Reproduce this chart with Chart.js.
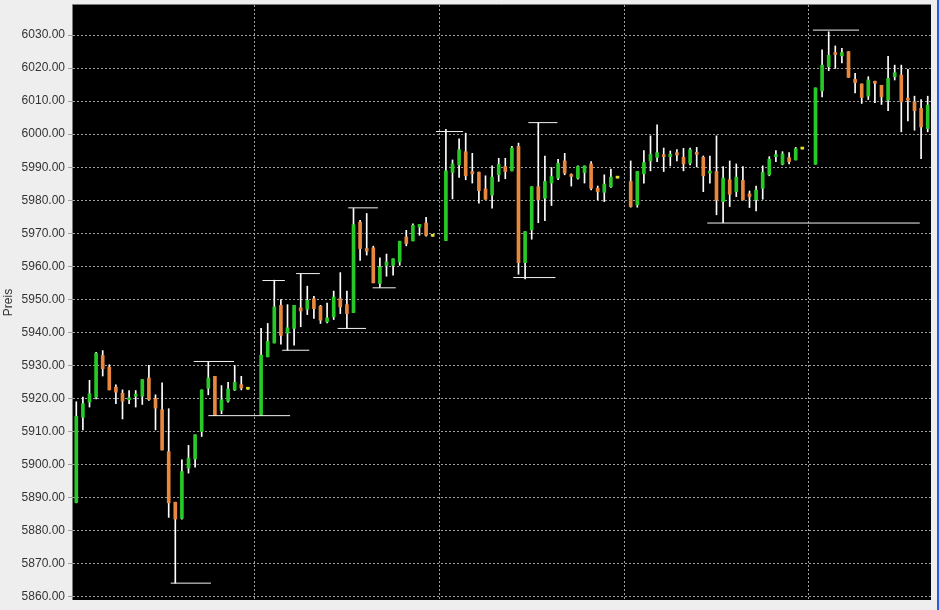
<!DOCTYPE html>
<html>
<head>
<meta charset="utf-8">
<script src="https://cdn.jsdelivr.net/npm/chart.js@4.4.1/dist/chart.umd.min.js"></script>
<style>
html, body { margin: 0; padding: 0; background: #eeeeee; }
#wrap { position: relative; width: 937px; height: 610px; border-right: 2px solid #2b5bd8; }
</style>
</head>
<body>
<div id="wrap"><canvas id="c" width="937" height="610"></canvas></div>
<script>
// ---- data (null = day separator slot) ----
const opens = [
  5888.5,5914.3,5918.9,5920.4,5933.0,5929.5,5923.4,5921.6,5919.6,5920.7,5920.7,5926.2,5919.9,5916.6,5903.9,5888.6,5883.7,5898.9,5901.7,5910.0,5923.1,5926.7,5916.4,5919.2,5922.6,5924.2,5922.8,
  null,
  5914.9,5932.6,5936.8,5948.2,5939.8,5941.2,5947.4,5947.0,5950.2,5947.9,5943.2,5944.7,5950.2,5948.4,5946.0,5973.4,5965.4,5965.6,5954.8,5960.3,5960.3,5961.3,5968.9,5967.7,5971.9,5973.1,5969.1,
  null,
  5967.8,5988.4,5990.7,5994.7,5988.7,5988.5,5983.4,5981.6,5987.7,5990.2,5988.9,5996.3,5961.1,5971.0,5984.1,5980.6,5985.2,5986.7,5991.9,5987.4,5986.7,5988.4,5991.0,5983.6,5982.4,5984.1,5986.7,
  null,
  5985.7,5978.6,5988.0,5991.9,5993.0,5993.4,5993.2,5994.4,5993.0,5991.2,5994.4,5993.0,5988.2,5988.7,5979.6,5986.2,5982.6,5986.0,5981.9,5980.1,5983.6,5987.7,5993.2,5990.9,5992.9,5992.2,5995.5,
  null,
  5990.9,6013.1,6020.4,6024.5,6023.7,6025.0,6016.6,6015.2,6011.5,6015.9,6014.8,6010.3,6017.4,6017.9,6010.5,6009.8,6007.8,6001.7
];
const highs = [
  5919.0,5920.4,5925.5,5934.0,5934.5,5930.2,5924.1,5922.6,5922.4,5922.4,5925.7,5930.0,5921.1,5924.7,5916.9,5888.6,5901.4,5905.8,5909.0,5922.6,5931.0,5926.7,5923.9,5924.9,5930.0,5926.7,5922.8,
  null,
  5941.2,5942.7,5955.8,5949.9,5948.4,5948.2,5957.6,5954.0,5950.9,5948.2,5948.9,5952.5,5958.1,5952.5,5977.5,5973.9,5976.0,5966.1,5962.6,5963.7,5962.3,5967.6,5970.9,5972.9,5972.7,5974.8,5969.1,
  null,
  6001.5,5992.2,5998.6,6000.3,5994.2,5988.5,5987.4,5990.4,5992.7,5992.7,5996.3,5997.3,5970.5,5984.1,6003.5,5993.4,5989.9,5992.4,5994.2,5988.0,5990.4,5990.4,5991.7,5984.3,5987.7,5989.4,5986.7,
  null,
  5991.9,5988.7,5995.0,5999.5,6002.8,5995.8,5994.9,5995.3,5995.7,5995.8,5996.0,5993.4,5993.4,5999.5,5990.2,5991.9,5991.0,5990.2,5982.8,5984.3,5990.4,5993.2,5995.0,5994.7,5994.4,5996.0,5995.5,
  null,
  6014.0,6025.5,6031.0,6026.7,6026.0,6025.0,6018.4,6015.2,6017.4,6016.1,6014.8,6023.6,6020.9,6020.9,6019.6,6011.5,6010.5,6011.5
];
const lows = [
  5888.4,5910.5,5917.4,5919.9,5926.8,5922.6,5918.4,5913.8,5918.4,5917.4,5918.2,5919.4,5910.5,5904.4,5884.0,5864.1,5883.5,5897.4,5899.2,5908.5,5921.1,5914.8,5915.4,5918.9,5922.4,5922.6,5922.8,
  null,
  5914.9,5932.6,5936.8,5936.4,5934.6,5936.1,5941.7,5945.4,5944.2,5942.7,5942.9,5943.9,5945.7,5941.2,5946.0,5961.8,5963.4,5955.0,5953.6,5957.0,5957.3,5960.3,5966.2,5967.7,5969.4,5969.1,5969.1,
  null,
  5967.8,5980.4,5986.9,5986.2,5985.2,5979.1,5980.3,5977.6,5985.7,5986.5,5988.9,5957.6,5956.2,5968.2,5973.2,5973.8,5978.4,5986.2,5987.7,5984.3,5986.4,5985.2,5983.1,5980.1,5979.6,5983.9,5986.7,
  null,
  5977.9,5977.9,5985.2,5988.9,5991.7,5988.7,5990.4,5991.9,5988.9,5990.7,5990.1,5982.6,5985.2,5975.6,5973.2,5978.1,5981.1,5980.1,5977.8,5976.8,5980.3,5987.4,5991.7,5990.7,5991.0,5992.2,5995.5,
  null,
  5990.9,6011.3,6019.2,6019.9,6021.6,6017.2,6012.5,6009.3,6010.5,6009.5,6009.0,6007.1,6016.4,6000.7,6004.0,6001.2,5992.6,6000.7
];
const closes = [
  5914.6,5918.4,5921.4,5933.7,5929.0,5922.6,5921.9,5919.2,5920.1,5921.2,5925.7,5919.7,5917.1,5904.4,5888.4,5883.5,5897.9,5901.9,5909.0,5922.6,5926.2,5914.8,5919.6,5922.9,5924.9,5923.2,5922.8,
  null,
  5933.1,5937.3,5947.7,5939.1,5941.4,5948.2,5946.5,5949.7,5947.2,5943.7,5944.4,5950.7,5947.7,5945.7,5972.6,5965.4,5964.6,5955.0,5959.8,5961.3,5962.3,5967.6,5966.9,5972.4,5972.7,5969.4,5969.1,
  null,
  5988.9,5991.0,5995.3,5987.4,5988.0,5982.9,5980.3,5987.0,5990.9,5988.7,5995.8,5961.1,5970.5,5984.1,5980.1,5985.7,5987.2,5991.2,5988.2,5987.2,5990.2,5990.4,5983.6,5982.6,5984.9,5987.0,5986.7,
  null,
  5978.1,5988.7,5991.4,5993.9,5994.4,5993.2,5993.9,5993.7,5991.0,5995.3,5993.9,5987.4,5988.6,5980.0,5986.7,5981.8,5987.0,5980.1,5981.1,5983.1,5988.4,5992.4,5993.6,5994.0,5991.7,5995.6,5995.5,
  null,
  6014.0,6020.9,6023.9,6024.1,6024.7,6017.2,6015.6,6011.1,6016.4,6015.4,6011.3,6016.9,6018.6,6009.8,6010.3,6007.1,6002.2,6008.8
];
// categories: one slot per candle (separator slots included)
const categories = opens.map((_, i) => String(i + 1));
// day separator slots (vertical dashed lines)
const separatorSlots = [27, 55, 83, 111];
// horizontal marker lines: [from slot, to slot, price]
const markerFrom  = [17.8, 20.0, 14.3, 28.2, 31.2, 33.3, 39.6, 41.2, 44.9, 54.5, 68.5, 66.2, 95.6, 111.6];
const markerTo    = [23.9, 32.4, 20.4, 31.6, 35.3, 36.9, 43.9, 45.7, 48.4, 58.6, 72.9, 72.6, 127.8, 118.6];
const markerPrice = [5931.2, 5914.8, 5864.1, 5955.7, 5934.6, 5957.8, 5941.2, 5977.7, 5953.5, 6000.8, 6003.5, 5956.6, 5973.1, 6031.5];

const UP = '#26c926', DOWN = '#e8873e', FLAT = '#e0e020';
const N = categories.length;

const bodyData = opens.map((o, i) => o == null ? null : [Math.min(o, closes[i]), Math.max(o, closes[i])]);
const bodyColors = opens.map((o, i) => o == null ? 'transparent' : (closes[i] > o ? UP : (closes[i] < o ? DOWN : FLAT)));
const wickData = lows.map((l, i) => l == null ? null : [l, highs[i]]);

const markerSets = markerPrice.map((p, k) => ({
  type: 'line',
  xAxisID: 'x2',
  data: [{ x: markerFrom[k], y: p }, { x: markerTo[k], y: p }],
  borderColor: '#f2f2f2',
  borderWidth: 1,
  pointRadius: 0,
  fill: false,
  order: -1
}));

const plotBg = {
  id: 'plotBg',
  beforeDraw(chart) {
    const { ctx, chartArea: a } = chart;
    ctx.save();
    ctx.fillStyle = '#000000';
    ctx.fillRect(a.left, a.top, a.right - a.left, a.bottom - a.top);
    ctx.strokeStyle = '#7a7a7a';
    ctx.lineWidth = 1;
    ctx.beginPath();
    ctx.moveTo(a.left - 0.5, a.bottom);
    ctx.lineTo(a.left - 0.5, a.top - 0.5);
    ctx.lineTo(a.right, a.top - 0.5);
    ctx.stroke();
    ctx.restore();
  }
};

const font12 = { family: "'Liberation Sans', Arial, sans-serif", size: 12 };

new Chart(document.getElementById('c'), {
  type: 'bar',
  data: {
    labels: categories,
    datasets: [
      { type: 'bar', data: bodyData, backgroundColor: bodyColors, barThickness: 3, grouped: false, minBarLength: 2, borderWidth: 0, order: 0 },
      { type: 'bar', data: wickData, backgroundColor: '#ffffff', barThickness: 1, grouped: false, borderWidth: 0, order: 1 },
      ...markerSets
    ]
  },
  options: {
    responsive: false,
    animation: false,
    events: [],
    layout: { padding: { left: 0, top: 5, right: 6, bottom: 10 } },
    plugins: { legend: { display: false }, tooltip: { enabled: false } },
    scales: {
      x: {
        type: 'category',
        offset: true,
        grid: {
          offset: false,
          drawTicks: false,
          color: ctx => separatorSlots.includes(ctx.index) ? '#a0a0a0' : 'transparent',
          lineWidth: 1
        },
        border: { display: false, dash: [2, 2] },
        ticks: { display: false, autoSkip: false },
        afterFit(s) { s.height = 0; }
      },
      x2: {
        type: 'linear',
        position: 'bottom',
        min: -0.5,
        max: N - 0.5,
        offset: false,
        bounds: 'data',
        grace: 0,
        display: false,
        grid: { offset: false },
        ticks: { includeBounds: true }
      },
      y: {
        min: 5859,
        max: 6039.1,
        ticks: {
          stepSize: 10,
          includeBounds: false,
          callback: v => Number(v).toFixed(2),
          color: '#333333',
          font: font12,
          padding: 3
        },
        grid: { color: '#a0a0a0', tickLength: 5, lineWidth: 1 },
        border: { display: false, dash: [2, 2] },
        title: { display: true, text: 'Preis', color: '#333333', font: font12, padding: { top: 1, bottom: 0 } },
        afterFit(s) { s.width = 73; s.paddingTop = 0; s.paddingBottom = 0; }
      }
    }
  },
  plugins: [plotBg]
});
</script>
</body>
</html>
